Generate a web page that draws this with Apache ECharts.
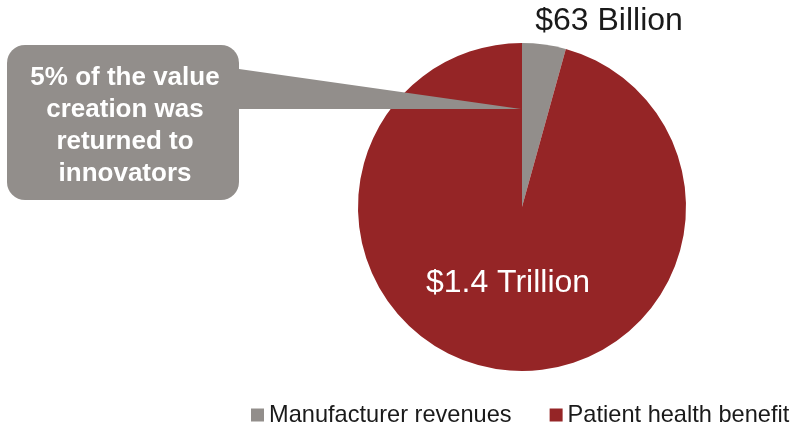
<!DOCTYPE html>
<html>
<head>
<meta charset="utf-8">
<script src="https://cdn.jsdelivr.net/npm/echarts@6/dist/echarts.min.js"></script>
<style>
  html, body { margin: 0; padding: 0; background: #fff; }
  #chart { width: 796px; height: 427px; }
</style>
</head>
<body>
<div id="chart"></div>
<script>
// Split of value created: what manufacturers earned vs. what patients gained
const categories = ['Manufacturer revenues', 'Patient health benefit'];
const valuesBillion = [63, 1400];
const sliceLabels = ['$63 Billion', '$1.4 Trillion'];
const sliceColors = ['#928e8b', '#952526'];
const calloutLines = ['5% of the value', 'creation was', 'returned to', 'innovators'];

const FONT = '"Liberation Sans", Arial, sans-serif';

const chart = echarts.init(document.getElementById('chart'), null, { renderer: 'canvas' });

const pieData = categories.map((name, i) => ({
  name: name,
  value: valuesBillion[i],
  itemStyle: { color: sliceColors[i] },
  label: i === 0
    ? { show: true, position: 'outside', color: '#1a1a1a', fontSize: 32 }
    : { show: true, position: 'inside', color: '#ffffff', fontSize: 32 }
}));

chart.setOption({
  animation: false,
  textStyle: { fontFamily: FONT },
  legend: {
    data: categories,
    left: 246,
    top: 398,
    icon: 'rect',
    itemWidth: 13,
    itemHeight: 13,
    itemGap: 38,
    textStyle: { fontFamily: FONT, fontSize: 23.6, color: '#1a1a1a' }
  },
  series: [{
    type: 'pie',
    center: [522, 207],
    radius: 164,
    startAngle: 90,
    clockwise: true,
    silent: true,
    labelLine: { show: false },
    label: {
      fontFamily: FONT,
      formatter: p => sliceLabels[p.dataIndex]
    },
    labelLayout: p => (p.dataIndex === 0
      ? { x: 609, y: 21, align: 'center', verticalAlign: 'middle' }
      : { x: 508, y: 283, align: 'center', verticalAlign: 'middle' }),
    data: pieData
  }],
  // Rounded callout box with a wedge pointing into the pie centre line
  graphic: [
    {
      type: 'polygon',
      z: 100,
      shape: { points: [[232, 68], [521, 109], [232, 109]] },
      style: { fill: '#928e8b' }
    },
    {
      type: 'rect',
      z: 100,
      shape: { x: 7, y: 45, width: 232, height: 155, r: 18 },
      style: { fill: '#928e8b' }
    },
    {
      type: 'text',
      z: 101,
      x: 125,
      y: 126,
      style: {
        text: calloutLines.join('\n'),
        fill: '#ffffff',
        font: 'bold 26px ' + FONT,
        align: 'center',
        verticalAlign: 'middle',
        lineHeight: 32
      }
    }
  ]
});
</script>
</body>
</html>
